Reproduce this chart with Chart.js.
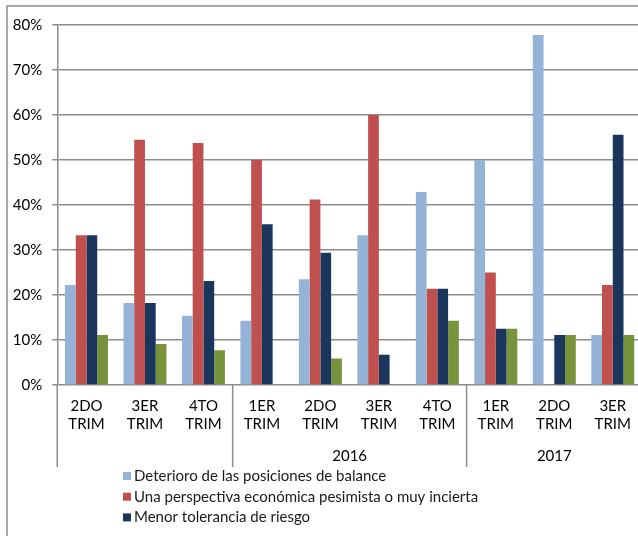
<!DOCTYPE html>
<html>
<head>
<meta charset="utf-8">
<title>Factores por trimestre</title>
<script src="https://cdn.jsdelivr.net/npm/chart.js"></script>
<style>
  html, body { margin: 0; padding: 0; overflow: hidden; background: #fff; }
  #wrap { position: relative; width: 660px; height: 536px; }
</style>
</head>
<body>
<div id="wrap"><canvas id="chart"></canvas></div>
<script>
// categories (quarters) and year groups
const quarters = [['2DO', 'TRIM'], ['3ER', 'TRIM'], ['4TO', 'TRIM'], ['1ER', 'TRIM'], ['2DO', 'TRIM'],
                  ['3ER', 'TRIM'], ['4TO', 'TRIM'], ['1ER', 'TRIM'], ['2DO', 'TRIM'], ['3ER', 'TRIM']];
const years = ['', '2016', '2017'];
const yearStart = [0, 3, 7];
const yearEnd = [2, 6, 9];

// series values (%)
const deterioro   = [22.2, 18.2, 15.4, 14.3, 23.5, 33.3, 42.9, 50.0, 77.8, 11.1];
const perspectiva = [33.3, 54.5, 53.8, 50.0, 41.2, 60.0, 21.4, 25.0, 0, 22.2];
const tolerancia  = [33.3, 18.2, 23.1, 35.7, 29.4, 6.7, 21.4, 12.5, 11.1, 55.6];
const otros       = [11.1, 9.1, 7.7, 0, 5.9, 0, 14.3, 12.5, 11.1, 11.1];

const lineColor = '#8c8c8c';

// frame, year row and legend
const extras = {
    id: 'extras',
    beforeDraw(chart) {
        const ctx = chart.ctx;
        ctx.save();
        ctx.strokeStyle = lineColor;
        ctx.lineWidth = 1.5;
        ctx.beginPath();
        ctx.moveTo(7, chart.height);
        ctx.lineTo(7, 6);
        ctx.lineTo(chart.width, 6);
        ctx.stroke();
        ctx.restore();
    },
    afterDraw(chart) {
        const ctx = chart.ctx;
        const x = chart.scales.x;
        const area = chart.chartArea;
        const step = x.getPixelForValue(1) - x.getPixelForValue(0);
        ctx.save();
        ctx.strokeStyle = lineColor;
        ctx.lineWidth = 1.5;
        ctx.font = '15px Lato';
        ctx.fillStyle = '#000';
        ctx.textAlign = 'center';
        ctx.textBaseline = 'middle';
        years.forEach((yr, i) => {
            const left = x.getPixelForValue(yearStart[i]) - step / 2;
            ctx.beginPath();
            ctx.moveTo(left, area.bottom);
            ctx.lineTo(left, 467);
            ctx.stroke();
            const mid = (x.getPixelForValue(yearStart[i]) + x.getPixelForValue(yearEnd[i])) / 2;
            ctx.fillText(yr, mid, 456);
        });

        // legend: rows that fall below the frame are cut off
        ctx.font = '15px Lato';
        ctx.textAlign = 'left';
        chart.data.datasets.forEach((ds, i) => {
            const cy = 476 + i * 20.7;
            if (cy + 8 > chart.height) return;
            ctx.fillStyle = ds.backgroundColor;
            ctx.fillRect(123, cy - 4, 8, 8);
            ctx.fillStyle = '#1a1a1a';
            ctx.fillText(ds.label, 134, cy);
        });
        ctx.restore();
    }
};

new Chart(document.getElementById('chart'), {
    type: 'bar',
    data: {
        labels: quarters,
        datasets: [
            { label: 'Deterioro de las posiciones de balance', data: deterioro, backgroundColor: '#95B3D7' },
            { label: 'Una perspectiva económica pesimista o muy incierta', data: perspectiva, backgroundColor: '#C0504D' },
            { label: 'Menor tolerancia de riesgo', data: tolerancia, backgroundColor: '#1B365D' },
            { label: 'Otros', data: otros, backgroundColor: '#77933C' }
        ]
    },
    options: {
        responsive: true,
        maintainAspectRatio: false,
        animation: false,
        layout: { padding: { left: 0, top: 25, right: 18, bottom: 0 } },
        datasets: { bar: { categoryPercentage: 0.735, barPercentage: 1.0 } },
        plugins: {
            legend: { display: false },
            tooltip: { enabled: false }
        },
        scales: {
            x: {
                grid: { display: false, drawTicks: false },
                border: { display: false },
                ticks: { color: '#000', padding: 12, font: { family: 'Lato', size: 15, lineHeight: 1.2 }, maxRotation: 0, autoSkip: false },
                afterFit: (s) => { s.height = 151; }
            },
            y: {
                min: 0,
                max: 80,
                grid: { color: lineColor, lineWidth: 1.5, tickLength: 5 },
                border: { display: true, color: lineColor, width: 1.5 },
                ticks: { stepSize: 10, color: '#000', padding: 10, font: { family: 'Lato', size: 15 }, callback: (v) => v + '%' },
                afterFit: (s) => { s.width = 57.25; }
            }
        }
    },
    plugins: [extras]
});
</script>
</body>
</html>
